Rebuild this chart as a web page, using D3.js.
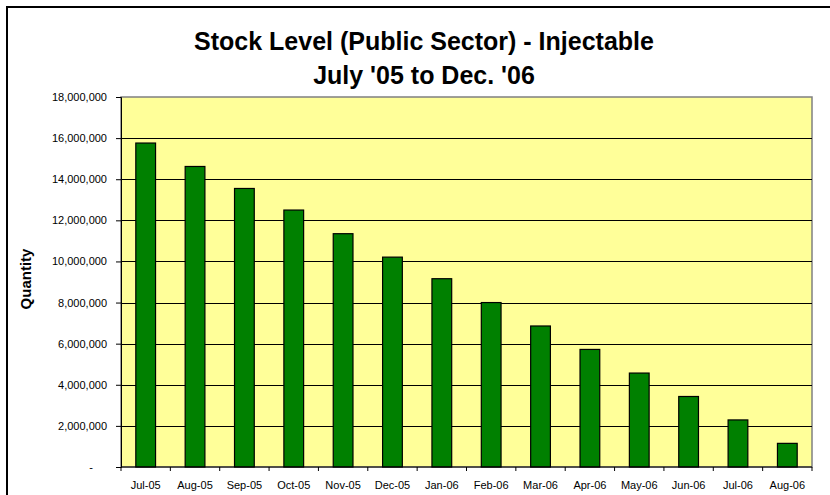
<!DOCTYPE html>
<html>
<head>
<meta charset="utf-8">
<script src="https://cdn.jsdelivr.net/npm/d3@7"></script>
<style>
  body { margin: 0; background: #fff; }
  svg { display: block; font-family: Arial, "Liberation Sans", sans-serif; }
</style>
</head>
<body>
<svg id="chart" width="830" height="495"></svg>
<script>
// Chart data
const months = ["Jul-05", "Aug-05", "Sep-05", "Oct-05", "Nov-05", "Dec-05", "Jan-06",
  "Feb-06", "Mar-06", "Apr-06", "May-06", "Jun-06", "Jul-06", "Aug-06"];
const stock = [15760000, 14620000, 13550000, 12500000, 11350000, 10210000, 9160000,
  8000000, 6860000, 5720000, 4570000, 3430000, 2290000, 1150000];
const yTicks = [0, 2000000, 4000000, 6000000, 8000000, 10000000, 12000000,
  14000000, 16000000, 18000000];
const titleLines = ["Stock Level (Public Sector) - Injectable", "July '05 to Dec. '06"];

const svg = d3.select("#chart");

// Plot area
const plot = { left: 121, top: 97, right: 812, bottom: 467 };

// Outer chart border
svg.append("rect")
  .attr("x", 7).attr("y", 7)
  .attr("width", 840).attr("height", 500)
  .attr("fill", "#fff")
  .attr("stroke", "#000")
  .attr("stroke-width", 2);

const x = d3.scaleBand()
  .domain(months)
  .range([plot.left, plot.right])
  .paddingInner(0.6)
  .paddingOuter(0.3);

const y = d3.scaleLinear()
  .domain([0, 18000000])
  .range([plot.bottom, plot.top]);

// Background
svg.append("rect")
  .attr("x", plot.left).attr("y", plot.top)
  .attr("width", plot.right - plot.left).attr("height", plot.bottom - plot.top)
  .attr("fill", "#ffff99")
  .attr("stroke", "#808080")
  .attr("stroke-width", 1.5);

// Gridlines
svg.append("g")
  .selectAll("line")
  .data(yTicks.filter(d => d > 0 && d < 18000000))
  .join("line")
  .attr("x1", plot.left).attr("x2", plot.right)
  .attr("y1", d => Math.round(y(d)) + 0.5).attr("y2", d => Math.round(y(d)) + 0.5)
  .attr("stroke", "#000")
  .attr("stroke-width", 1);

// Bars
svg.append("g")
  .selectAll("rect")
  .data(months)
  .join("rect")
  .attr("x", d => x(d))
  .attr("y", (d, i) => y(stock[i]))
  .attr("width", x.bandwidth())
  .attr("height", (d, i) => y(0) - y(stock[i]))
  .attr("fill", "#008000")
  .attr("stroke", "#000")
  .attr("stroke-width", 1.2);

// Y axis
const fmt = d => d === 0 ? "-" : d3.format(",")(d);
const yAxis = svg.append("g")
  .attr("transform", `translate(${plot.left},0)`)
  .call(d3.axisLeft(y).tickValues(yTicks).tickFormat(fmt).tickSize(5).tickPadding(9));
yAxis.select(".domain").attr("stroke", "#000");
yAxis.selectAll("text").attr("font-size", 11).attr("fill", "#000");
yAxis.selectAll("text").filter(d => d === 0).attr("dx", -14);

// X axis with ticks at band boundaries
const xAxis = svg.append("g")
  .attr("transform", `translate(0,${plot.bottom})`);
xAxis.append("line")
  .attr("x1", plot.left).attr("x2", plot.right)
  .attr("stroke", "#000");
const boundaries = d3.range(months.length + 1).map(i => plot.left + i * (plot.right - plot.left) / months.length);
xAxis.selectAll(".tk")
  .data(boundaries)
  .join("line")
  .attr("class", "tk")
  .attr("x1", d => d).attr("x2", d => d)
  .attr("y1", 0).attr("y2", 4)
  .attr("stroke", "#000");
xAxis.selectAll("text")
  .data(months)
  .join("text")
  .attr("x", d => x(d) + x.bandwidth() / 2)
  .attr("y", 22)
  .attr("text-anchor", "middle")
  .attr("font-size", 11)
  .attr("fill", "#000")
  .text(d => d);

// Y axis title
svg.append("text")
  .attr("transform", "translate(31,279) rotate(-90)")
  .attr("text-anchor", "middle")
  .attr("font-size", 15)
  .attr("font-weight", "bold")
  .text("Quantity");

// Chart title
svg.append("g")
  .selectAll("text")
  .data(titleLines)
  .join("text")
  .attr("x", 424)
  .attr("y", (d, i) => 50 + i * 34)
  .attr("text-anchor", "middle")
  .attr("font-size", 25)
  .attr("font-weight", "bold")
  .text(d => d);
</script>
</body>
</html>
